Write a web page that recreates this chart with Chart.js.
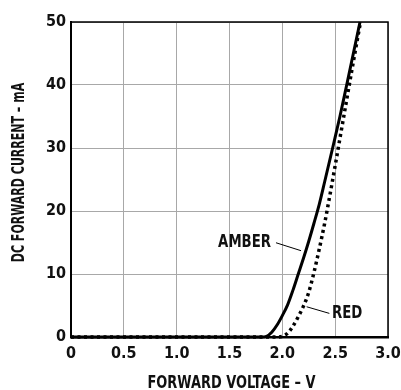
<!DOCTYPE html>
<html>
<head>
<meta charset="utf-8">
<script src="https://cdn.jsdelivr.net/npm/chart.js@4"></script>
<style>
  html, body { margin: 0; padding: 0; background: #fff; }
  #wrap { width: 401px; height: 390px; }
</style>
</head>
<body>
<div id="wrap"><canvas id="myChart" width="401" height="390"></canvas></div>
<script>
"use strict";

// forward voltage (V) vs DC forward current (mA)
let amberVolts = [0, 1.80, 1.85, 1.90, 1.95, 2.00, 2.05, 2.10, 2.15, 2.20, 2.25, 2.30, 2.35, 2.40, 2.476, 2.545, 2.609, 2.672, 2.735];
let amberCurrent = [0, 0, 0.1, 0.75, 1.9, 3.4, 5.1, 7.4, 9.95, 12.5, 15.2, 18.1, 21.1, 24.6, 30, 35, 40, 45, 50];
let redVolts = [0, 1.95, 2.00, 2.05, 2.10, 2.15, 2.20, 2.25, 2.30, 2.35, 2.40, 2.45, 2.50, 2.55, 2.60, 2.65, 2.70, 2.74];
let redCurrent = [0, 0, 0.1, 0.6, 1.7, 3.2, 4.9, 7.1, 10.3, 14.0, 18.0, 22.5, 27.2, 32.0, 36.8, 41.6, 46.3, 50];

let xTicks = [0, 0.5, 1.0, 1.5, 2.0, 2.5, 3.0];
let yTicks = [0, 10, 20, 30, 40, 50];

let xTitle = "FORWARD VOLTAGE – V";
let yTitle = "DC FORWARD CURRENT – mA";

// curve labels: text anchor and leader line, in data units
let labelText = ["AMBER", "RED"];
let labelAt = [[1.893, 15.0], [2.47, 3.8]];
let labelAlign = ["right", "left"];
let leaderFrom = [[1.94, 14.96], [2.23, 4.8]];
let leaderTo = [[2.177, 13.7], [2.445, 3.75]];

const FONT = "'DejaVu Sans Condensed', 'DejaVu Sans', sans-serif";

function pts(xs, ys) {
    return xs.map(function (v, i) { return { x: v, y: ys[i] }; });
}

// narrow text, the original face is a condensed one
function squeezed(ctx, text, x, y, size, sx, align, angle) {
    ctx.save();
    ctx.translate(x, y);
    if (angle) ctx.rotate(angle);
    ctx.scale(sx, 1);
    ctx.font = "bold " + size + "px " + FONT;
    ctx.textAlign = align;
    ctx.fillText(text, 0, 0);
    ctx.restore();
}

let framePlugin = {
    id: "frame",
    afterDatasetsDraw: function (chart) {
        let ctx = chart.ctx, a = chart.chartArea;
        let sx = chart.scales.x, sy = chart.scales.y;
        ctx.save();
        ctx.strokeStyle = "#000";
        ctx.lineWidth = 1.5;
        ctx.beginPath();
        ctx.moveTo(a.left, a.top);
        ctx.lineTo(a.right, a.top);
        ctx.lineTo(a.right, a.bottom);
        ctx.stroke();

        ctx.lineWidth = 1;
        ctx.fillStyle = "#111";
        ctx.textBaseline = "middle";
        for (let i = 0; i < labelText.length; i++) {
            ctx.beginPath();
            ctx.moveTo(sx.getPixelForValue(leaderFrom[i][0]), sy.getPixelForValue(leaderFrom[i][1]));
            ctx.lineTo(sx.getPixelForValue(leaderTo[i][0]), sy.getPixelForValue(leaderTo[i][1]));
            ctx.stroke();
            squeezed(ctx, labelText[i], sx.getPixelForValue(labelAt[i][0]), sy.getPixelForValue(labelAt[i][1]), 18, 0.82, labelAlign[i], 0);
        }

        ctx.textBaseline = "alphabetic";
        squeezed(ctx, xTitle, (a.left + a.right) / 2 + 2, a.bottom + 51, 18, 0.8, "center", 0);
        squeezed(ctx, yTitle, 24, (a.top + a.bottom) / 2 - 7, 17, 0.72, "center", -Math.PI / 2);
        ctx.restore();
    }
};

new Chart(document.getElementById("myChart"), {
    type: "line",
    data: {
        datasets: [
            {
                label: "AMBER",
                data: pts(amberVolts, amberCurrent),
                borderColor: "#000",
                borderWidth: 3,
                pointRadius: 0,
                cubicInterpolationMode: "monotone",
                clip: 2
            },
            {
                label: "RED",
                data: pts(redVolts, redCurrent),
                borderColor: "#000",
                borderWidth: 3.5,
                borderDash: [3, 3.5],
                pointRadius: 0,
                cubicInterpolationMode: "monotone",
                clip: 2
            }
        ]
    },
    options: {
        responsive: false,
        animation: false,
        events: [],
        layout: { padding: { left: 0, top: 22, right: 13, bottom: 0 } },
        plugins: { legend: { display: false }, tooltip: { enabled: false } },
        scales: {
            x: {
                type: "linear",
                min: 0,
                max: 3,
                afterBuildTicks: function (s) { s.ticks = xTicks.map(function (v) { return { value: v }; }); },
                afterFit: function (s) { s.height = 53; s.paddingLeft = 0; s.paddingRight = 0; },
                grid: { color: "#a8a8a8", lineWidth: 1, drawTicks: false },
                border: { color: "#000", width: 2.5 },
                ticks: {
                    padding: 7,
                    color: "#111",
                    font: { family: FONT, size: 16, weight: "bold" },
                    callback: function (v) { return v === 0 ? "0" : v.toFixed(1); }
                }
            },
            y: {
                type: "linear",
                min: 0,
                max: 50,
                afterBuildTicks: function (s) { s.ticks = yTicks.map(function (v) { return { value: v }; }); },
                afterFit: function (s) { s.width = 71; s.paddingTop = 0; s.paddingBottom = 0; },
                grid: { color: "#a8a8a8", lineWidth: 1, drawTicks: false },
                border: { color: "#000", width: 2 },
                ticks: {
                    padding: 5,
                    color: "#111",
                    font: { family: FONT, size: 16, weight: "bold" }
                }
            }
        }
    },
    plugins: [framePlugin]
});
</script>
</body>
</html>
